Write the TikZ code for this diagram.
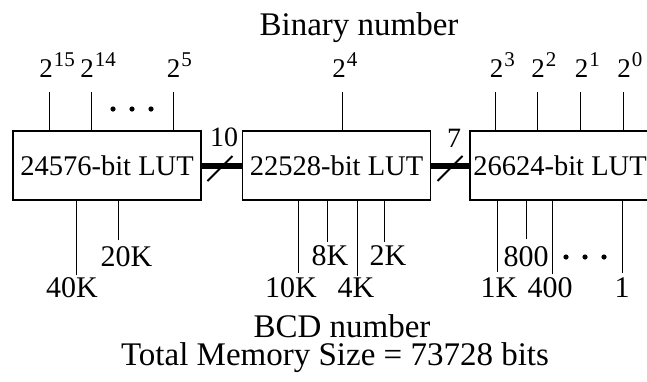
\documentclass[tikz,border=0pt]{standalone}
\usepackage{fontspec}
\setmainfont{Liberation Serif}
\newcommand{\fsz}[1]{\fontsize{#1}{#1}\selectfont}
\newcommand{\pw}[2]{2\rlap{\hspace{1pt}\raisebox{11pt}{\fsz{21}#2}}}
\begin{document}
\begin{tikzpicture}[x=1pt,y=-1pt,
  lut/.style={draw, line width=1.1pt, minimum width=188pt, minimum height=69pt, inner sep=0pt, font=\fsz{28.5}},
  wire/.style={line width=1pt},
  bus/.style={line width=6pt},
  slash/.style={line width=1.8pt},
  lbl/.style={inner sep=0pt, anchor=base, font=\fsz{30}},
  toplbl/.style={inner sep=0pt, anchor=base, font=\fsz{27}},
  title/.style={inner sep=0pt, anchor=base, font=\fsz{33}},
  wlbl/.style={inner sep=0pt, anchor=base, font=\fsz{28}},
  dot/.style={fill=black}]
\useasboundingbox (0,0) rectangle (647,381);
\clip (0,0) rectangle (647,381);

% boxes
\node[lut] (b1) at (107,165.5) {24576-bit LUT};
\node[lut] (b2) at (336.5,165.5) {22528-bit LUT};
\node[lut, minimum width=180pt] (b3) at (560,165.5) {26624-bit LUT};

% titles
\node[title] (tbin) at (359,35) {Binary number};
\node[title] (tbcd) at (342,337) {BCD number};
\node[title] (ttot) at (335,365) {Total Memory Size = 73728 bits};

% input lines
\foreach \n/\x/\b in {a1/49/b1, a2/91/b1, a3/173/b1, a4/342/b2, a5/495/b3, a6/537/b3, a7/580/b3, a8/623/b3}{
  \coordinate (\n) at (\x,92);
  \draw[wire] (\n) -- (\n |- \b.north);
}
% input labels
\node[toplbl] (p15) at (46,77) {\pw{}{15}};
\node[toplbl] (p14) at (87,77) {\pw{}{14}};
\node[toplbl] (p5) at (173.5,77) {\pw{}{5}};
\node[toplbl] (p4) at (339,77) {\pw{}{4}};
\node[toplbl] (p3) at (496.5,77) {\pw{}{3}};
\node[toplbl] (p2) at (538,77) {\pw{}{2}};
\node[toplbl] (p1) at (581.5,77) {\pw{}{1}};
\node[toplbl] (p0) at (624,77) {\pw{}{0}};

% dots
\foreach \x in {113,132,151}{\fill[dot] (\x,109) circle (2.6pt);}
\foreach \x in {566,585,604}{\fill[dot] (\x,257) circle (2.6pt);}

% buses
\draw[bus] (b1.east) -- (b2.west);
\draw[bus] (b2.east) -- (b3.west);
\coordinate (s1) at (220,168.5);
\coordinate (s2) at (450,168.5);
\draw[slash] ([shift={(-12.5,12.5)}]s1) -- ([shift={(12.5,-12.5)}]s1);
\draw[slash] ([shift={(-12.5,12.5)}]s2) -- ([shift={(12.5,-12.5)}]s2);
\node[wlbl] (w10) at (224,146) {10};
\node[wlbl] (w7) at (454,147) {7};

% output lines
\foreach \n/\x/\y/\b in {o1/76/275/b1, o2/118/240/b1, o3/298/273/b2, o4/327/242/b2, o5/357/276/b2, o6/384/242/b2, o7/497/272/b3, o8/526/239/b3, o9/552/274/b3, o10/622/273/b3}{
  \coordinate (\n) at (\x,\y);
  \draw[wire] (\n |- \b.south) -- (\n);
}
% output labels
\node[lbl] (k40) at (72,297) {40K};
\node[lbl] (k20) at (126.5,266) {20K};
\node[lbl] (k10) at (291,297) {10K};
\node[lbl] (k8) at (330,265) {8K};
\node[lbl] (k4) at (356,297) {4K};
\node[lbl] (k2) at (388,265) {2K};
\node[lbl] (k1) at (499,297) {1K};
\node[lbl] (h8) at (526,266) {800};
\node[lbl] (h4) at (550,297) {400};
\node[lbl] (u1) at (622,297) {1};
\end{tikzpicture}
\end{document}
